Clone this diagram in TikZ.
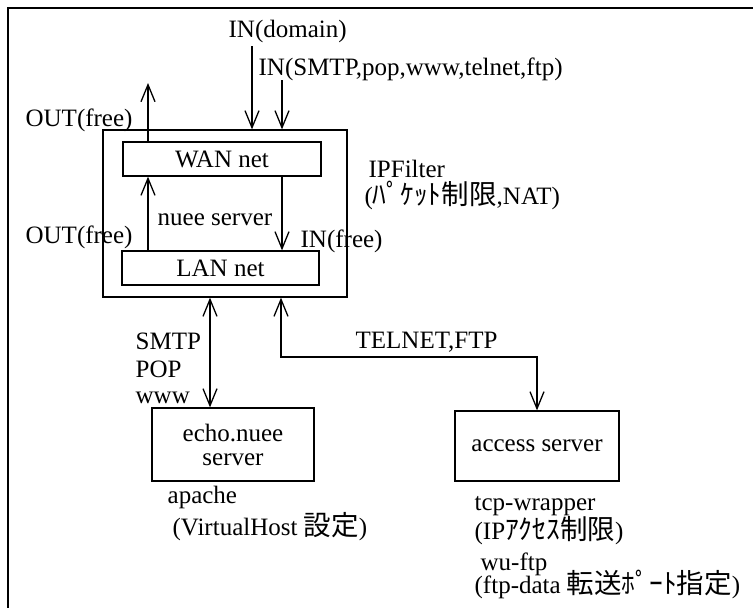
\documentclass[tikz,border=0pt]{standalone}
\usepackage{fontspec}
\setmainfont{Liberation Serif}
\newfontfamily\jpfont[Scale=1.1]{Noto Sans CJK JP}
\usetikzlibrary{arrows.meta}
\usetikzlibrary{calc}
\tikzset{
    netbox/.style={draw=black, rectangle, inner sep=0pt, font=\fontsize{25}{24}\selectfont},
    flow/.style={draw=black, -{Straight Barb[length=17pt,width=14pt]}},
    flowboth/.style={draw=black, {Straight Barb[length=17pt,width=14pt]}-{Straight Barb[length=17pt,width=14pt]}},
    tag/.style={inner sep=0pt, anchor=base west, font=\fontsize{25}{27}\selectfont},
}
\begin{document}
\begin{tikzpicture}[x=1pt, y=-1pt, line width=1.3pt]
	\useasboundingbox (0,0) rectangle (753,608);
	\clip (0,0) rectangle (753,608);
	\draw[line width=1.8pt] (8,8) rectangle (770,630);
	% boxes
	\node[netbox, minimum width=244pt, minimum height=167pt] (nuee) at (225,213.5) {};
	\node[netbox, minimum width=198pt, minimum height=34pt] (wan) at (222,159) {WAN net};
	\node[netbox, minimum width=197pt, minimum height=34pt] (lan) at (220.5,268) {LAN net};
	\node[netbox, minimum width=162pt, minimum height=73pt, align=center] (echo) at (233,444.5) {echo.nuee\\server};
	\node[netbox, minimum width=164pt, minimum height=70pt] (access) at (537,446) {access server};
	% arrow ends
	\coordinate (domtop) at (252,46);
	\coordinate (svctop) at (282,80);
	\coordinate (outtop) at (148,83);
	\coordinate (mail) at (210,350);
	\coordinate (telcorner) at (281,357);
	% arrows
	\draw[flow] (domtop) -- (domtop |- nuee.north);
	\draw[flow] (svctop) -- (svctop |- nuee.north);
	\draw[flow] (outtop |- wan.north) -- (outtop);
	\draw[flow] (outtop |- lan.north) -- (outtop |- wan.south);
	\draw[flow] (svctop |- wan.south) -- (svctop |- lan.north);
	\draw[flowboth] (mail |- nuee.south) -- (mail |- echo.north);
	\draw[flowboth] (telcorner |- nuee.south) -- (telcorner) -- (telcorner -| access.north) -- (access.north);
	% labels
	\node[tag] (indomain) at (228,37) {IN(domain)};
	\node[tag] (insvc) at (258,75) {IN(SMTP,pop,www,telnet,ftp)};
	\node[tag] (outwan) at (25,126) {OUT(free)};
	\node[tag] (outlan) at (25,243) {OUT(free)};
	\node[tag] (infree) at (300,247) {IN(free)};
	\node[tag] (nueename) at (157,225) {nuee server};
	\node[tag] (ipf) at (368,177) {IPFilter};
	\node[tag] (ipfnote) at (364,204) {({\jpfont ﾊﾟｹｯﾄ制限},NAT)};
	\node[tag] (smtp) at (135,349) {SMTP};
	\node[tag] (pop) at (135,377) {POP};
	\node[tag] (www) at (135,403) {www};
	\node[tag] (telnet) at (355,348) {TELNET,FTP};
	\node[tag] (apache) at (167,503) {apache};
	\node[tag] (vhost) at (172,535) {(VirtualHost {\jpfont 設定})};
	\node[tag] (tcpw) at (474,510) {tcp-wrapper};
	\node[tag] (ipacc) at (474,539) {(IP{\jpfont ｱｸｾｽ制限})};
	\node[tag] (wuftp) at (480,570) {wu-ftp};
	\node[tag] (ftpdata) at (474,593) {(ftp-data {\jpfont 転送ﾎﾟｰﾄ指定})};
\end{tikzpicture}
\end{document}
